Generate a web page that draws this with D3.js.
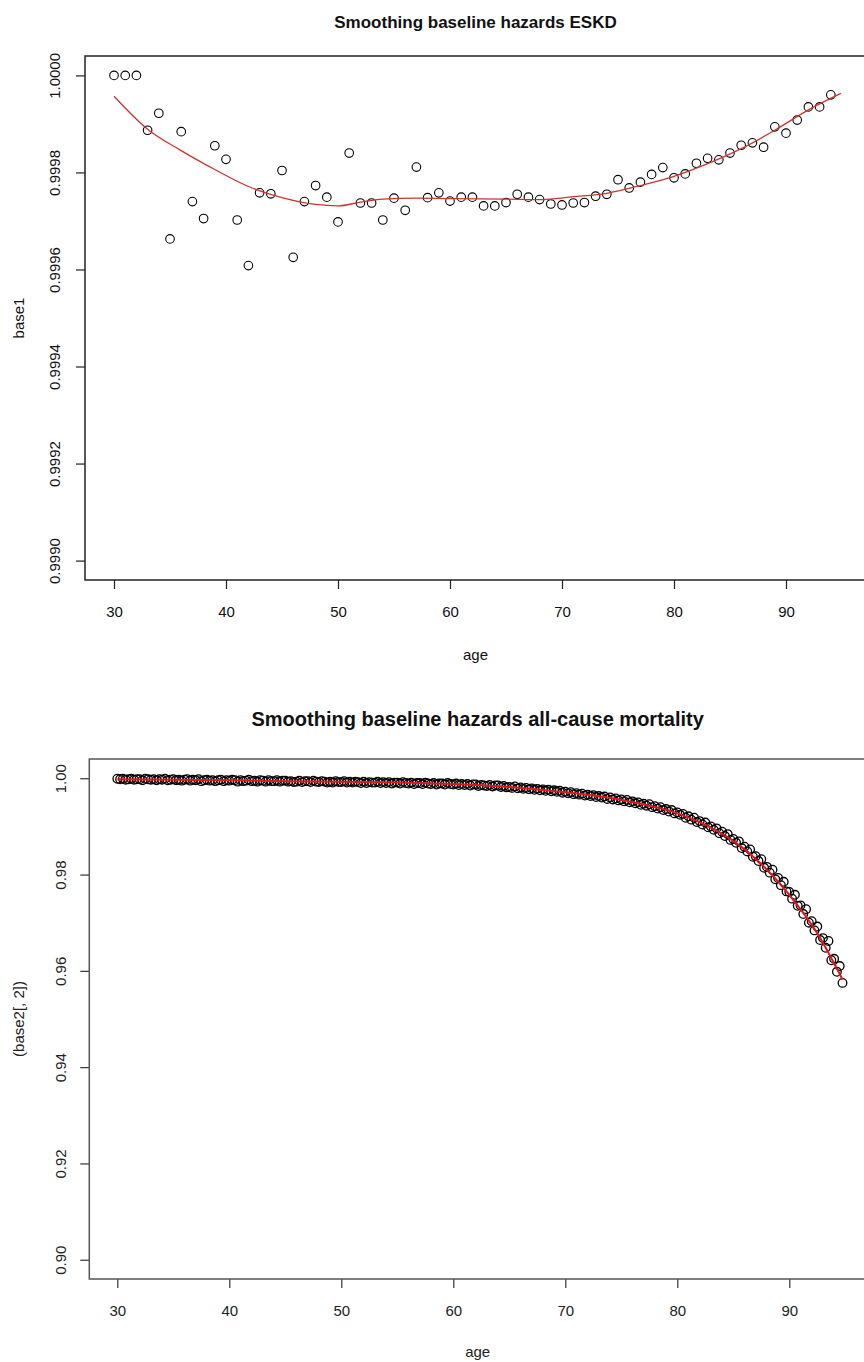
<!DOCTYPE html>
<html>
<head>
<meta charset="utf-8">
<script src="https://cdn.jsdelivr.net/npm/d3@7"></script>
<style>
  body { margin: 0; background: #fff; }
  svg { display: block; font-family: "Liberation Sans", Arial, sans-serif; }
</style>
</head>
<body>
<svg id="chart" width="864" height="1362"></svg>
<script>
// panel 1 - ESKD, one point per year of age
const ages1 = d3.range(30, 95);
const base1 = [
  1.0000, 1.0000, 1.0000, 0.999887, 0.999922, 0.999663, 0.999884, 0.999740, 0.999705, 0.999855,
  0.999827, 0.999702, 0.999608, 0.999758, 0.999756, 0.999804, 0.999625, 0.999740, 0.999773, 0.999749,
  0.999698, 0.999840, 0.999737, 0.999737, 0.999702, 0.999747, 0.999722, 0.999811, 0.999748, 0.999758,
  0.999741, 0.999749, 0.999749, 0.999731, 0.999731, 0.999738, 0.999755, 0.999749, 0.999744, 0.999735,
  0.999733, 0.999737, 0.999738, 0.999751, 0.999755, 0.999785, 0.999768, 0.999780, 0.999796, 0.999810,
  0.999789, 0.999797, 0.999819, 0.999829, 0.999826, 0.999840, 0.999856, 0.999861, 0.999852, 0.999894,
  0.999881, 0.999908, 0.999935, 0.999935, 0.999960
];
// red smoother, panel 1
const smoothAges1 = [30, 33, 36, 39, 42, 45, 48, 50, 52, 54, 57, 60, 65, 68, 71, 74, 77, 80, 83, 86, 89, 92, 94.9];
const smooth1 = [0.999957, 0.999889, 0.999845, 0.999806, 0.999771, 0.999748, 0.999734, 0.999731, 0.999739, 0.999745,
  0.999747, 0.999746, 0.999745, 0.999744, 0.999750, 0.999757, 0.999773, 0.999792, 0.999818, 0.999849,
  0.999887, 0.999929, 0.999963];
const yTicks1 = [0.9990, 0.9992, 0.9994, 0.9996, 0.9998, 1.0000];

// panel 2 - all-cause mortality, 4 points per year of age (30 .. 94.75)
const ages2 = d3.range(30, 95, 0.25);
const base2 = [
  0.9999, 0.9998, 0.9999, 0.9997,  0.9998, 0.9999, 0.9997, 0.9998,  0.9998, 0.9996, 0.9999, 0.9998,
  0.9997, 0.9998, 0.9996, 0.9998,  0.9997, 0.9999, 0.9996, 0.9997,  0.9998, 0.9996, 0.9997, 0.9995,
  0.9997, 0.9998, 0.9995, 0.9997,  0.9996, 0.9998, 0.9994, 0.9996,  0.9997, 0.9995, 0.9996, 0.9994,
  0.9996, 0.9997, 0.9994, 0.9996,  0.9995, 0.9997, 0.9996, 0.9993,  0.9996, 0.9994, 0.9995, 0.9997,
  0.9994, 0.9995, 0.9993, 0.9996,  0.9995, 0.9993, 0.9996, 0.9994,  0.9994, 0.9996, 0.9993, 0.9995,
  0.9995, 0.9993, 0.9994, 0.9992,  0.9993, 0.9995, 0.9992, 0.9994,  0.9994, 0.9992, 0.9995, 0.9993,
  0.9992, 0.9994, 0.9993, 0.9991,  0.9993, 0.9991, 0.9994, 0.9992,  0.9992, 0.9994, 0.9991, 0.9993,
  0.9991, 0.9993, 0.9992, 0.9990,  0.9993, 0.9990, 0.9992, 0.9991,  0.9991, 0.9993, 0.9990, 0.9992,
  0.9990, 0.9992, 0.9989, 0.9991,  0.9991, 0.9989, 0.9992, 0.9990,  0.9989, 0.9991, 0.9988, 0.9990,
  0.9990, 0.9988, 0.9991, 0.9989,  0.9988, 0.9990, 0.9987, 0.9989,  0.9989, 0.9987, 0.9990, 0.9988,
  0.9987, 0.9989, 0.9986, 0.9988,  0.9986, 0.9988, 0.9985, 0.9987,  0.9987, 0.9984, 0.9986, 0.9985,
  0.9984, 0.9986, 0.9983, 0.9985,  0.9985, 0.9982, 0.9984, 0.9981,  0.9982, 0.9980, 0.9983, 0.9979,
  0.9981, 0.9978, 0.9980, 0.9977,  0.9979, 0.9976, 0.9978, 0.9975,  0.9977, 0.9974, 0.9976, 0.9973,
  0.9975, 0.9972, 0.9974, 0.9970,  0.9972, 0.9969, 0.9971, 0.9967,  0.9969, 0.9966, 0.9968, 0.9964,
  0.9966, 0.9963, 0.9965, 0.9961,  0.9963, 0.9960, 0.9962, 0.9957,  0.9960, 0.9956, 0.9958, 0.9954,
  0.9956, 0.9952, 0.9955, 0.9950,  0.9952, 0.9948, 0.9950, 0.9945,  0.9947, 0.9943, 0.9946, 0.9940,
  0.9942, 0.9937, 0.9940, 0.9934,  0.9936, 0.9931, 0.9934, 0.9927,  0.9929, 0.9924, 0.9926, 0.9918,
  0.9921, 0.9914, 0.9918, 0.9909,  0.9911, 0.9904, 0.9908, 0.9898,  0.9900, 0.9893, 0.9896, 0.9886,
  0.9889, 0.9880, 0.9884, 0.9872,  0.9874, 0.9866, 0.9869, 0.9855,  0.9858, 0.9848, 0.9852, 0.9837,
  0.9838, 0.9828, 0.9832, 0.9814,  0.9816, 0.9804, 0.9810, 0.9790,  0.9793, 0.9778, 0.9785, 0.9765,
  0.9764, 0.9750, 0.9758, 0.9735,  0.9736, 0.9718, 0.9728, 0.9700,  0.9703, 0.9684, 0.9692, 0.9664,
  0.9668, 0.9648, 0.9662, 0.9622,  0.9625, 0.9598, 0.9610, 0.9575
];
const smoothAges2 = [30, 35, 40, 45, 50, 55, 60, 65, 70, 75, 80, 82.5, 85, 87.5, 90, 92.5, 94.75];
const smooth2 = [0.9998, 0.9997, 0.9996, 0.9994, 0.9993, 0.9991, 0.9988, 0.9982, 0.9971, 0.9955,
  0.9927, 0.9903, 0.9870, 0.9822, 0.9758, 0.9678, 0.9582];
const yTicks2 = [0.90, 0.92, 0.94, 0.96, 0.98, 1.00];

const xTicks = [30, 40, 50, 60, 70, 80, 90];

const svg = d3.select("#chart");

function drawPanel(opt) {
  const x = d3.scaleLinear().domain(opt.xDomain).range([opt.left, opt.right]);
  const y = d3.scaleLinear().domain(opt.yDomain).range([opt.bottom, opt.top]);
  const g = svg.append("g");

  // title
  g.append("text")
    .attr("x", (opt.left + 866) / 2)
    .attr("y", opt.titleY)
    .attr("text-anchor", "middle")
    .attr("font-weight", "bold")
    .attr("font-size", opt.titleSize)
    .attr("fill", "#111")
    .text(opt.title);

  // axes
  const xAxis = g.append("g")
    .attr("transform", `translate(0,${opt.bottom})`)
    .call(d3.axisBottom(x).tickValues(xTicks).tickSize(9).tickPadding(17).tickFormat(d3.format("d")));
  xAxis.select(".domain").remove();
  xAxis.selectAll("line").attr("stroke", opt.axisColor).attr("stroke-width", 1.2);
  xAxis.selectAll("text").attr("font-size", 15).attr("fill", opt.textColor)
    .attr("font-family", "Liberation Sans, Arial, sans-serif");

  const yAxis = g.append("g")
    .attr("transform", `translate(${opt.left},0)`)
    .call(d3.axisLeft(y).tickValues(opt.yTicks).tickSize(9).tickFormat(d3.format(opt.yFormat)));
  yAxis.select(".domain").remove();
  yAxis.selectAll("line").attr("stroke", opt.axisColor).attr("stroke-width", 1.2);
  // labels run along the axis, like R with las = 0
  yAxis.selectAll("text")
    .attr("font-size", 15).attr("fill", opt.textColor)
    .attr("font-family", "Liberation Sans, Arial, sans-serif")
    .attr("text-anchor", "middle")
    .attr("x", 0)
    .attr("y", 0)
    .attr("dy", "0.35em")
    .attr("transform", `translate(${opt.yLabelX - opt.left},0) rotate(-90)`);

  // axis titles
  g.append("text")
    .attr("x", (opt.left + 866) / 2)
    .attr("y", opt.xTitleY)
    .attr("text-anchor", "middle")
    .attr("font-size", 15)
    .attr("fill", opt.textColor)
    .text("age");
  g.append("text")
    .attr("transform", `translate(19,${(opt.top + opt.bottom) / 2}) rotate(-90)`)
    .attr("text-anchor", "middle")
    .attr("dy", "0.35em")
    .attr("font-size", 15)
    .attr("fill", opt.textColor)
    .text(opt.yTitle);

  // points
  g.append("g").selectAll("circle")
    .data(opt.ages.map((a, i) => ({ age: a, v: opt.values[i] })))
    .join("circle")
    .attr("cx", d => x(d.age))
    .attr("cy", d => y(d.v))
    .attr("r", opt.r)
    .attr("fill", "none")
    .attr("stroke", "#000")
    .attr("stroke-width", opt.pointStroke);

  // smoother
  const line = d3.line()
    .x(d => x(d[0]))
    .y(d => y(d[1]))
    .curve(d3.curveMonotoneX);
  g.append("path")
    .datum(opt.smoothAges.map((a, i) => [a, opt.smooth[i]]))
    .attr("d", line)
    .attr("fill", "none")
    .attr("stroke", opt.lineColor)
    .attr("stroke-width", opt.lineWidth);

  // box (right edge runs off the picture)
  g.append("path")
    .attr("d", `M868,${opt.top}H${opt.left}V${opt.bottom}H868`)
    .attr("fill", "none")
    .attr("stroke", opt.boxColor)
    .attr("stroke-width", 1.5);
}

drawPanel({
  title: "Smoothing baseline hazards ESKD",
  titleY: 28, titleSize: 17,
  left: 85, right: 866, top: 56, bottom: 580,
  xDomain: [27.41, 27.41 + 781 / 11.2],
  yDomain: [0.99896, 1.00004],
  yTicks: yTicks1, yFormat: ".4f", yLabelX: 55,
  xTitleY: 660, yTitle: "base1",
  ages: ages1, values: base1,
  smoothAges: smoothAges1, smooth: smooth1,
  r: 4.3, pointStroke: 1.1,
  lineColor: "#c8362f", lineWidth: 1.3,
  axisColor: "#222", textColor: "#111", boxColor: "#222"
});

drawPanel({
  title: "Smoothing baseline hazards all-cause mortality",
  titleY: 726, titleSize: 20,
  left: 89.3, right: 866, top: 759, bottom: 1279,
  xDomain: [27.5, 27.5 + 776.7 / 11.2],
  yDomain: [0.896, 1.004],
  yTicks: yTicks2, yFormat: ".2f", yLabelX: 61,
  xTitleY: 1357, yTitle: "(base2[, 2])",
  ages: ages2, values: base2,
  smoothAges: smoothAges2, smooth: smooth2,
  r: 4.3, pointStroke: 1.3,
  lineColor: "#e3141b", lineWidth: 2,
  axisColor: "#333", textColor: "#222", boxColor: "#555"
});
</script>
</body>
</html>
